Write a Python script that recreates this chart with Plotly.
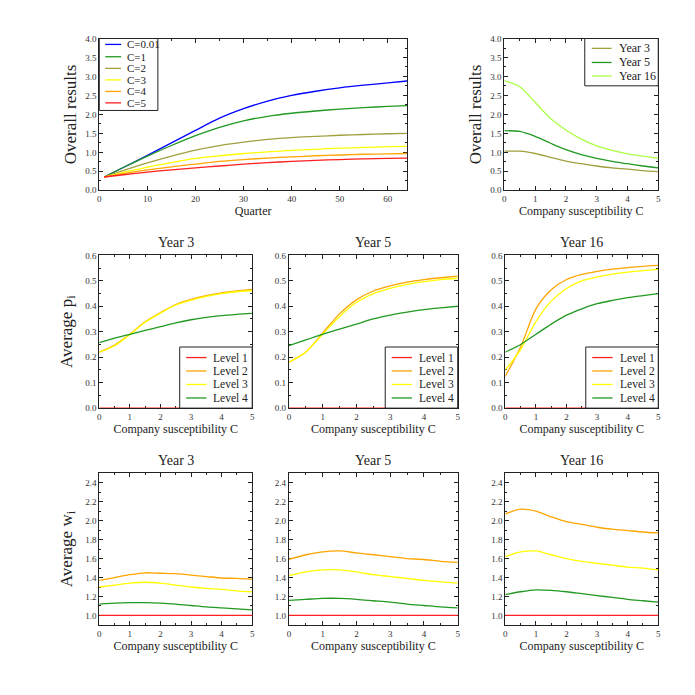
import plotly.graph_objects as go

# ---- data ----
quarters = [1, 5, 10, 15, 20, 25, 30, 35, 40, 45, 50, 55, 60, 64]
c_labels = ["C=0.01", "C=1", "C=2", "C=3", "C=4", "C=5"]
res_c001 = [0.35, 0.60, 0.92, 1.25, 1.58, 1.90, 2.15, 2.35, 2.50, 2.61, 2.70, 2.77, 2.83, 2.88]
res_c1 = [0.35, 0.60, 0.90, 1.18, 1.44, 1.66, 1.83, 1.95, 2.03, 2.09, 2.14, 2.18, 2.21, 2.23]
res_c2 = [0.35, 0.52, 0.72, 0.90, 1.06, 1.18, 1.27, 1.34, 1.39, 1.42, 1.45, 1.47, 1.49, 1.50]
res_c3 = [0.35, 0.47, 0.61, 0.73, 0.84, 0.91, 0.97, 1.01, 1.05, 1.08, 1.11, 1.13, 1.15, 1.16]
res_c4 = [0.35, 0.44, 0.54, 0.62, 0.69, 0.76, 0.81, 0.85, 0.88, 0.91, 0.93, 0.95, 0.96, 0.97]
res_c5 = [0.35, 0.41, 0.48, 0.54, 0.59, 0.64, 0.69, 0.73, 0.76, 0.79, 0.81, 0.83, 0.84, 0.85]

c_grid = [0, 0.5, 1, 1.5, 2, 2.5, 3, 3.5, 4, 4.5, 5]
years = ["Year 3", "Year 5", "Year 16"]
overall_y3 = [1.03, 1.03, 0.97, 0.87, 0.77, 0.70, 0.64, 0.59, 0.56, 0.52, 0.49]
overall_y5 = [1.57, 1.55, 1.42, 1.24, 1.07, 0.94, 0.84, 0.76, 0.70, 0.64, 0.59]
overall_y16 = [2.89, 2.73, 2.32, 1.89, 1.59, 1.35, 1.17, 1.05, 0.96, 0.90, 0.84]

levels = ["Level 1", "Level 2", "Level 3", "Level 4"]
# average p_i per level, one list per year
p_y3 = [
    [0] * 11,
    [0.220, 0.248, 0.290, 0.339, 0.375, 0.407, 0.427, 0.442, 0.453, 0.460, 0.466],
    [0.220, 0.245, 0.289, 0.337, 0.373, 0.405, 0.424, 0.439, 0.450, 0.457, 0.462],
    [0.257, 0.275, 0.290, 0.305, 0.320, 0.335, 0.347, 0.356, 0.363, 0.368, 0.372],
]
p_y5 = [
    [0] * 11,
    [0.180, 0.220, 0.295, 0.370, 0.425, 0.460, 0.480, 0.495, 0.505, 0.512, 0.518],
    [0.180, 0.220, 0.290, 0.360, 0.415, 0.450, 0.470, 0.486, 0.497, 0.505, 0.510],
    [0.245, 0.268, 0.290, 0.310, 0.330, 0.350, 0.365, 0.377, 0.387, 0.394, 0.400],
]
p_y16 = [
    [0] * 11,
    [0.125, 0.240, 0.390, 0.465, 0.505, 0.525, 0.537, 0.546, 0.552, 0.557, 0.561],
    [0.150, 0.230, 0.340, 0.420, 0.470, 0.500, 0.515, 0.526, 0.534, 0.540, 0.545],
    [0.220, 0.250, 0.290, 0.330, 0.365, 0.390, 0.410, 0.423, 0.434, 0.442, 0.450],
]
# average w_i per level
w_y3 = [
    [1.0] * 11,
    [1.37, 1.40, 1.43, 1.45, 1.445, 1.44, 1.425, 1.41, 1.395, 1.39, 1.38],
    [1.30, 1.32, 1.34, 1.35, 1.34, 1.32, 1.30, 1.285, 1.275, 1.26, 1.25],
    [1.12, 1.13, 1.135, 1.135, 1.13, 1.12, 1.105, 1.09, 1.08, 1.07, 1.06],
]
w_y5 = [
    [1.0] * 11,
    [1.59, 1.64, 1.67, 1.68, 1.66, 1.64, 1.62, 1.60, 1.59, 1.57, 1.56],
    [1.42, 1.46, 1.48, 1.48, 1.46, 1.43, 1.41, 1.39, 1.37, 1.355, 1.34],
    [1.16, 1.17, 1.18, 1.18, 1.17, 1.155, 1.14, 1.12, 1.105, 1.09, 1.08],
]
w_y16 = [
    [1.0] * 11,
    [2.07, 2.12, 2.10, 2.04, 1.99, 1.96, 1.93, 1.91, 1.895, 1.88, 1.87],
    [1.62, 1.67, 1.68, 1.64, 1.60, 1.57, 1.55, 1.53, 1.51, 1.50, 1.48],
    [1.22, 1.25, 1.27, 1.265, 1.25, 1.23, 1.21, 1.19, 1.17, 1.155, 1.14],
]

c_colors = ["#0000ff", "#229922", "#a0a040", "#ffff00", "#ffa500", "#ff2020"]
year_colors = ["#a0a040", "#229922", "#aaff44"]
level_colors = ["#ff2020", "#ffa500", "#ffff00", "#229922"]

W = H = 695
FONT = "Liberation Serif"
INK = "#222"

# panel boxes in pixels: (left, right, top, bottom)
boxes = {
    1: (98, 408, 34, 188), 2: (506, 661, 34, 188),
    3: (98, 252, 254, 409), 4: (289, 459, 254, 409), 5: (507, 661, 254, 409),
    6: (98, 252, 475, 629), 7: (289, 459, 475, 629), 8: (507, 661, 475, 629),
}

fig = go.Figure()


def ax_name(i, kind):
    return kind if i == 1 else f"{kind}{i}"


def px2x(p):
    return p / W


def px2y(p):
    return 1 - p / H


def add_line(i, x, y, name, color):
    fig.add_trace(go.Scatter(
        x=x, y=y, mode="lines", name=name, showlegend=False,
        line=dict(color=color, width=1.3, shape="spline", smoothing=0.8),
        xaxis=ax_name(i, "x"), yaxis=ax_name(i, "y"),
    ))


# top left: overall results over quarters
for lab, vals, col in zip(c_labels, [res_c001, res_c1, res_c2, res_c3, res_c4, res_c5], c_colors):
    add_line(1, quarters, vals, lab, col)

# top right: overall results vs C
for lab, vals, col in zip(years, [overall_y3, overall_y5, overall_y16], year_colors):
    add_line(2, c_grid, vals, lab, col)

# middle: average p_i
for k, data in enumerate([p_y3, p_y5, p_y16]):
    for lab, vals, col in zip(levels, data, level_colors):
        add_line(3 + k, c_grid, vals, lab, col)

# bottom: average w_i
for k, data in enumerate([w_y3, w_y5, w_y16]):
    for lab, vals, col in zip(levels, data, level_colors):
        add_line(6 + k, c_grid, vals, lab, col)

layout = dict(
    width=W, height=H, margin=dict(l=0, r=0, t=0, b=0),
    paper_bgcolor="white", plot_bgcolor="white",
    font=dict(family=FONT, size=10, color=INK),
)

tick_font = dict(family=FONT, size=9, color="#333")


def axis_common():
    return dict(showline=True, mirror="ticks", linecolor=INK, linewidth=1,
                ticks="inside", ticklen=4, tickcolor=INK, showgrid=False,
                zeroline=False, tickfont=tick_font, layer="below traces")


xspecs = {1: ([0, 64], 10, 5, "Quarter")}
for i in range(2, 9):
    xspecs[i] = ([0, 5], 1, 0.5, "Company susceptibility C")
yspecs = {
    1: ([0, 4], 0.5, 0.25, "Overall results"),
    2: ([0, 4], 0.5, 0.25, "Overall results"),
}
for i in (3, 4, 5):
    yspecs[i] = ([0, 0.6], 0.1, 0.05, "Average p<sub>i</sub>" if i == 3 else None)
for i in (6, 7, 8):
    yspecs[i] = ([0.9, 2.5], 0.2, 0.1, "Average w<sub>i</sub>" if i == 6 else None)

for i, (l, r, t, b) in boxes.items():
    xr, xd, xm, xt = xspecs[i]
    yr, yd, ym, yt = yspecs[i]
    xa = axis_common()
    xa.update(domain=[px2x(l), px2x(r)], range=xr, dtick=xd, tick0=0,
              anchor=ax_name(i, "y"),
              minor=dict(dtick=xm, ticks="inside", ticklen=2, tickcolor=INK),
              title=dict(text=xt, font=dict(family=FONT, size=12, color=INK), standoff=3))
    ya = axis_common()
    ya.update(domain=[px2y(b), px2y(t)], range=yr, dtick=yd, tick0=0, tickformat=".1f",
              anchor=ax_name(i, "x"),
              minor=dict(dtick=ym, ticks="inside", ticklen=2, tickcolor=INK))
    if yt:
        ya["title"] = dict(text=yt, font=dict(family=FONT, size=17, color=INK),
                           standoff=4 if i in (1, 2) else 8)
    if i >= 6:
        ya.update(tick0=1.0)
    layout["xaxis" if i == 1 else f"xaxis{i}"] = xa
    layout["yaxis" if i == 1 else f"yaxis{i}"] = ya

shapes = []
annotations = []


def draw_legend(box, rows, x_line, x_text, labels, colors, size):
    l, r, t, b = box
    shapes.append(dict(type="rect", xref="paper", yref="paper", layer="above",
                       x0=px2x(l), x1=px2x(r), y0=px2y(b), y1=px2y(t),
                       line=dict(color=INK, width=1), fillcolor="white"))
    for yy, lab, col in zip(rows, labels, colors):
        shapes.append(dict(type="line", xref="paper", yref="paper", layer="above",
                           x0=px2x(x_line[0]), x1=px2x(x_line[1]), y0=px2y(yy), y1=px2y(yy),
                           line=dict(color=col, width=1.3)))
        annotations.append(dict(text=lab, x=px2x(x_text), y=px2y(yy), xref="paper", yref="paper",
                                xanchor="left", yanchor="middle", showarrow=False,
                                font=dict(family=FONT, size=size, color=INK)))


draw_legend((98, 157, 34, 107), [40, 52.5, 64.3, 76, 87.7, 99.3], (104, 120), 124,
            c_labels, c_colors, 11)
draw_legend((587, 661, 34, 82), [44, 58.3, 72], (594, 614), 619,
            years, year_colors, 12)
for k in range(3):
    l, r, t, b = boxes[3 + k]
    left = r - 73
    draw_legend((left, r, b - 62, b), [b - 51.3, b - 37.7, b - 24, b - 10.3],
                (left + 6.5, left + 27), left + 32, levels, level_colors, 11.5)

for i in range(3, 9):
    l, r, t, b = boxes[i]
    annotations.append(dict(text=years[(i - 3) % 3], x=px2x((l + r) / 2), y=px2y(t - 3),
                            xref="paper", yref="paper", xanchor="center", yanchor="bottom",
                            showarrow=False, font=dict(family=FONT, size=14, color=INK)))
layout["shapes"] = shapes
layout["annotations"] = annotations

fig.update_layout(**layout)
fig.write_html("out.html", config={"displayModeBar": False},
               post_script="document.body.style.margin='0px';")
